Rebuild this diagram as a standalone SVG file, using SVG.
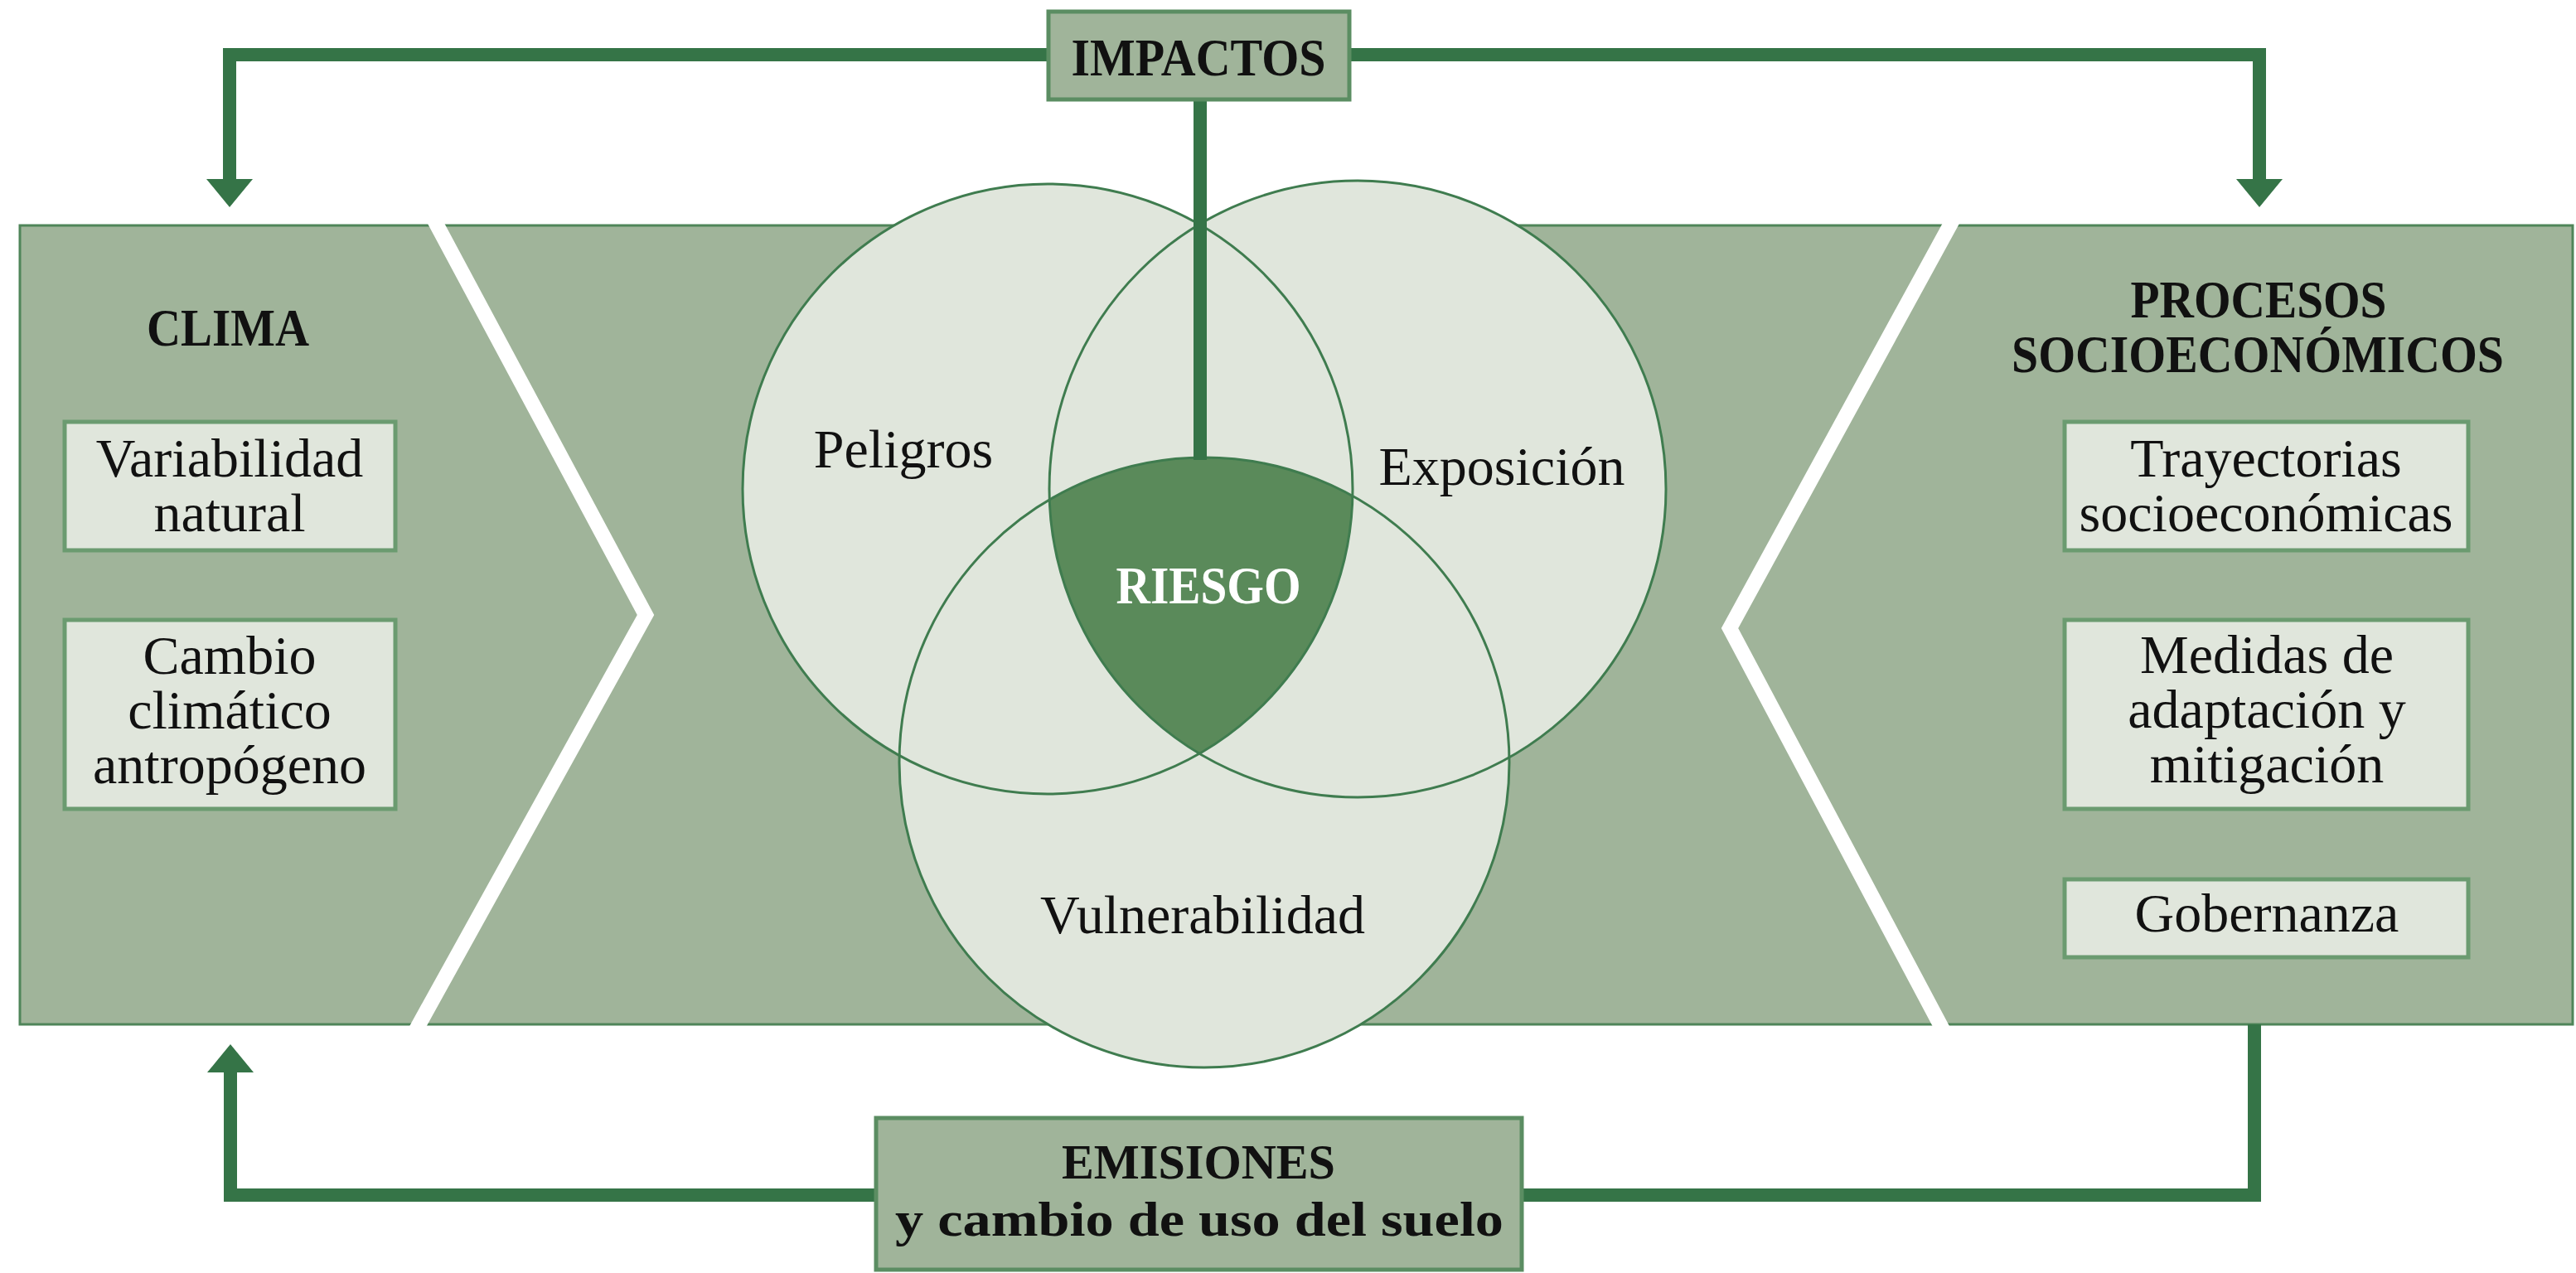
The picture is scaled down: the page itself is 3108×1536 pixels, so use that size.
<svg xmlns="http://www.w3.org/2000/svg" width="3108" height="1536" viewBox="0 0 3108 1536">
<defs>
<style>
.t{font-family:"Liberation Serif","Times New Roman",serif;font-size:66px;fill:#111;text-anchor:middle}
.b{font-family:"Liberation Serif","Times New Roman",serif;font-size:63px;font-weight:bold;fill:#111;text-anchor:middle}
.sub{fill:#e0e6dc;stroke:#6b9b70;stroke-width:5}
.hdr{fill:#a0b49a;stroke:#5b8d62;stroke-width:5}
.circ{fill:#e0e6dc}
.cs{fill:none;stroke:#3f7c4f;stroke-width:3}
.con{fill:none;stroke:#357447;stroke-width:16;stroke-linejoin:miter}
.ah{fill:#357447}
.chev{fill:none;stroke:#ffffff;stroke-width:18;stroke-linejoin:miter}
</style>
</defs>
<rect width="3108" height="1536" fill="#ffffff"/>

<g id="band">
<rect x="24" y="272" width="3080" height="964" fill="#a0b49a" stroke="#4f8559" stroke-width="3"/>
<polyline class="chev" points="522,262 779,742 500,1246"/>
<polyline class="chev" points="2358,262 2087,758 2346,1246"/>
</g>

<g id="venn">
<circle class="circ" cx="1264" cy="590" r="368"/>
<circle class="circ" cx="1638" cy="590" r="372"/>
<circle class="circ" cx="1453" cy="920" r="368"/>
<path id="riesgo-shape" d="M1266.2,602.9 A368,368 0 0 1 1631.9,598.4 A368,368 0 0 1 1447,909.3 A372,372 0 0 1 1266.2,602.9 Z" fill="#5a8a5a"/>
<circle class="cs" cx="1264" cy="590" r="368"/>
<circle class="cs" cx="1638" cy="590" r="372"/>
<circle class="cs" cx="1453" cy="920" r="368"/>
</g>

<g id="connectors">
<polyline class="con" points="1265,66 277,66 277,218"/>
<polygon class="ah" points="249,216 305,216 277,250"/>
<polyline class="con" points="1628,66 2726,66 2726,218"/>
<polygon class="ah" points="2698,216 2754,216 2726,250"/>
<line class="con" x1="1448" y1="120" x2="1448" y2="555"/>
<polyline class="con" points="1057,1442 278,1442 278,1292"/>
<polygon class="ah" points="250,1294 306,1294 278,1260"/>
<polyline class="con" points="1836,1442 2720,1442 2720,1236"/>
</g>

<g id="impactos">
<rect class="hdr" x="1265" y="14" width="363" height="106"/>
<text class="b" x="1446" y="91" textLength="307" lengthAdjust="spacingAndGlyphs">IMPACTOS</text>
</g>

<g id="emisiones">
<rect class="hdr" x="1057" y="1349" width="779" height="183"/>
<text class="b" x="1446" y="1422" style="font-size:60px" textLength="330" lengthAdjust="spacingAndGlyphs">EMISIONES</text>
<text class="b" x="1447" y="1491" style="font-size:60px" textLength="734" lengthAdjust="spacingAndGlyphs">y cambio de uso del suelo</text>
</g>

<g id="clima">
<text class="b" x="275" y="417" textLength="196" lengthAdjust="spacingAndGlyphs">CLIMA</text>
</g>
<g id="variabilidad">
<rect class="sub" x="78" y="509" width="399" height="155"/>
<text class="t" x="277" y="575">Variabilidad</text>
<text class="t" x="277" y="641">natural</text>
</g>
<g id="cambio">
<rect class="sub" x="78" y="748" width="399" height="228"/>
<text class="t" x="277" y="813">Cambio</text>
<text class="t" x="277" y="879">climático</text>
<text class="t" x="277" y="945">antropógeno</text>
</g>

<g id="procesos">
<text class="b" x="2725" y="383" textLength="309" lengthAdjust="spacingAndGlyphs">PROCESOS</text>
<text class="b" x="2724" y="449" textLength="594" lengthAdjust="spacingAndGlyphs">SOCIOECONÓMICOS</text>
</g>
<g id="trayectorias">
<rect class="sub" x="2491" y="509" width="487" height="155"/>
<text class="t" x="2734" y="575">Trayectorias</text>
<text class="t" x="2734" y="641">socioeconómicas</text>
</g>
<g id="medidas">
<rect class="sub" x="2491" y="748" width="487" height="228"/>
<text class="t" x="2735" y="812">Medidas de</text>
<text class="t" x="2735" y="878">adaptación y</text>
<text class="t" x="2735" y="944">mitigación</text>
</g>
<g id="gobernanza">
<rect class="sub" x="2491" y="1061" width="487" height="94"/>
<text class="t" x="2735" y="1124">Gobernanza</text>
</g>

<g id="labels">
<text class="t" x="1090" y="564">Peligros</text>
<text class="t" x="1812" y="585">Exposición</text>
<text class="t" x="1451" y="1126">Vulnerabilidad</text>
<text class="b" x="1458" y="728" style="fill:#ffffff" textLength="223" lengthAdjust="spacingAndGlyphs">RIESGO</text>
</g>
</svg>
